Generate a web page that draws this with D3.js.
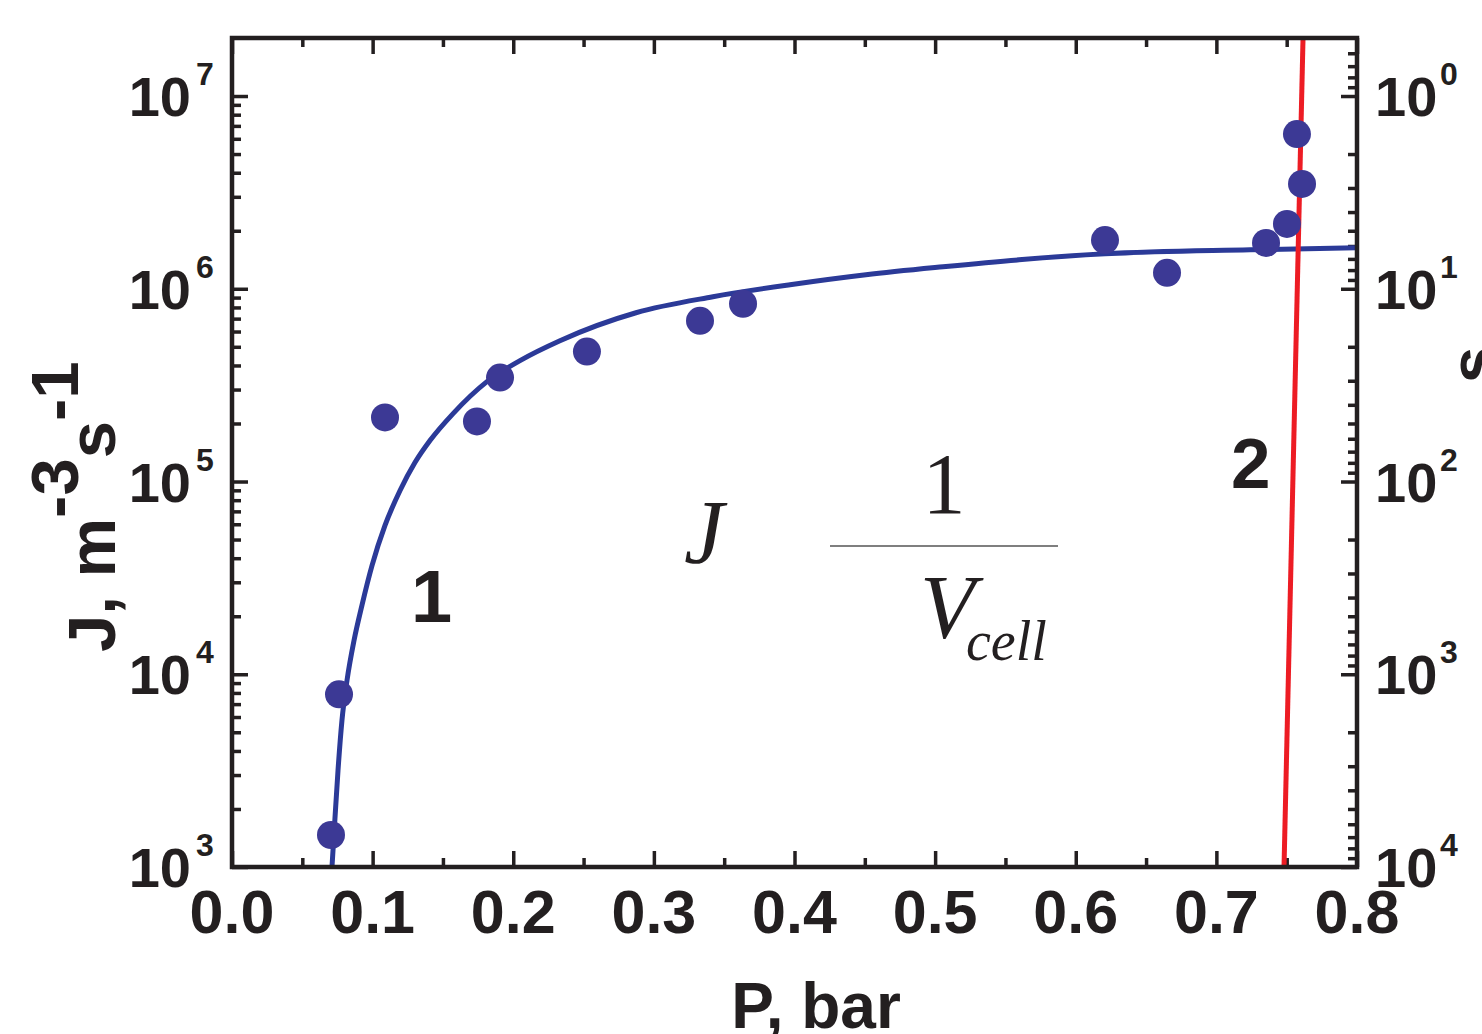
<!DOCTYPE html>
<html><head><meta charset="utf-8">
<script src="https://cdn.jsdelivr.net/npm/d3@7"></script>
<style>body{margin:0;background:#fff}</style>
</head><body><svg id="c" width="1482" height="1034"></svg>
<script>
// ---- data ----
const xTickValues = [0, 0.1, 0.2, 0.3, 0.4, 0.5, 0.6, 0.7, 0.8];
const xTickLabels = ["0.0", "0.1", "0.2", "0.3", "0.4", "0.5", "0.6", "0.7", "0.8"];
const jDecades = [1e3, 1e4, 1e5, 1e6, 1e7];
const jExponents = ["3", "4", "5", "6", "7"];
const tauDecades = [1, 10, 100, 1000, 10000];
const tauExponents = ["0", "1", "2", "3", "4"];

// measured points (P, bar ; J, m^-3 s^-1)
const dotP = [0.0704, 0.0761, 0.1088, 0.1742, 0.1906, 0.2524, 0.3328, 0.3634, 0.6208, 0.6649, 0.7353, 0.7502, 0.7573, 0.7609];
const dotJ = [1466, 7870, 2.15e5, 2.05e5, 3.46e5, 4.72e5, 6.82e5, 8.36e5, 1.79e6, 1.21e6, 1.73e6, 2.17e6, 6.35e6, 3.50e6];

// curve 1 (fit of J)
const curveP = [0.0711, 0.0732, 0.0754, 0.0782, 0.0818, 0.0868, 0.0924, 0.0996, 0.1088, 0.1195, 0.1301, 0.1408, 0.1572, 0.1813, 0.2048, 0.2332, 0.2873, 0.3420, 0.3968, 0.4508, 0.5056, 0.5596, 0.6208, 0.7239, 0.8000];
const curveJ = [1000, 1780, 3182, 5777, 9310, 15010, 22780, 36710, 59160, 89830, 1.254e5, 1.631e5, 2.251e5, 3.297e5, 4.24e5, 5.377e5, 7.51e5, 9.09e5, 1.049e6, 1.182e6, 1.300e6, 1.413e6, 1.518e6, 1.592e6, 1.631e6];

// curve 2 (right axis, s)
const redP = [0.7481, 0.7616];
const redTau = [1e4, 0.507];

// ---- layout ----
const L = 232, R = 1357, T = 38, B = 867;
const ink = "#231f20";
const sans = "'Liberation Sans', Arial, Helvetica, sans-serif";
const serif = "'Liberation Serif', 'Times New Roman', serif";

const svg = d3.select("#c");
const x = d3.scaleLinear().domain([0, 0.8]).range([L, R]);
const yJ = d3.scaleLog().domain([1e3, 2e7]).range([B, T]);
const yT = d3.scaleLog().domain([1e4, 0.5]).range([B, T]);

svg.append("defs").append("clipPath").attr("id", "clip")
  .append("rect").attr("x", L).attr("y", T).attr("width", R - L).attr("height", B - T);

// minor ticks
const xMinor = d3.range(0.05, 0.8, 0.1);
const jMinor = [];
[1e3, 1e4, 1e5, 1e6].forEach(d => { for (let k = 2; k <= 9; k++) jMinor.push(d * k); });
const tMinor = [0.6, 0.7, 0.8, 0.9];
[1, 10, 100, 1000].forEach(d => { for (let k = 2; k <= 9; k++) tMinor.push(d * k); });

function styleAxis(sel) {
  sel.select(".domain").remove();
  sel.selectAll(".tick line").attr("stroke", ink).attr("stroke-width", 3.5);
  sel.selectAll(".tick text").remove();
}
const ax = svg.append("g");
ax.append("g").attr("transform", `translate(0,${B})`).call(d3.axisBottom(x).tickValues(xTickValues).tickSize(-16)).call(styleAxis);
ax.append("g").attr("transform", `translate(0,${B})`).call(d3.axisBottom(x).tickValues(xMinor).tickSize(-9)).call(styleAxis);
ax.append("g").attr("transform", `translate(0,${T})`).call(d3.axisTop(x).tickValues(xTickValues).tickSize(-16)).call(styleAxis);
ax.append("g").attr("transform", `translate(0,${T})`).call(d3.axisTop(x).tickValues(xMinor).tickSize(-9)).call(styleAxis);
ax.append("g").attr("transform", `translate(${L},0)`).call(d3.axisLeft(yJ).tickValues(jDecades).tickSize(-16)).call(styleAxis);
ax.append("g").attr("transform", `translate(${L},0)`).call(d3.axisLeft(yJ).tickValues(jMinor).tickSize(-9)).call(styleAxis);
ax.append("g").attr("transform", `translate(${R},0)`).call(d3.axisRight(yT).tickValues(tauDecades).tickSize(-16)).call(styleAxis);
ax.append("g").attr("transform", `translate(${R},0)`).call(d3.axisRight(yT).tickValues(tMinor).tickSize(-9)).call(styleAxis);

// curves
const plot = svg.append("g").attr("clip-path", "url(#clip)");
const line1 = d3.line().x(d => x(d[0])).y(d => yJ(d[1])).curve(d3.curveMonotoneX);
plot.append("path").datum(curveP.map((p, i) => [p, curveJ[i]]))
  .attr("d", line1).attr("fill", "none").attr("stroke", "#2b3a98").attr("stroke-width", 5);
const line2 = d3.line().x(d => x(d[0])).y(d => yT(d[1]));
plot.append("path").datum(redP.map((p, i) => [p, redTau[i]]))
  .attr("d", line2).attr("fill", "none").attr("stroke", "#ed1c24").attr("stroke-width", 5);

// dots
svg.append("g").selectAll("circle").data(dotP.map((p, i) => [p, dotJ[i]])).join("circle")
  .attr("cx", d => x(d[0])).attr("cy", d => yJ(d[1])).attr("r", 14).attr("fill", "#3c3995");

// frame
svg.append("rect").attr("x", L).attr("y", T).attr("width", R - L).attr("height", B - T)
  .attr("fill", "none").attr("stroke", ink).attr("stroke-width", 4.5);

// tick labels
const lab = svg.append("g").attr("fill", ink).attr("font-family", sans).attr("font-weight", "bold");
xTickValues.forEach((v, i) => {
  lab.append("text").attr("x", x(v)).attr("y", 933).attr("text-anchor", "middle")
    .attr("font-size", 61).text(xTickLabels[i]);
});
jDecades.forEach((v, i) => {
  const yy = yJ(v);
  lab.append("text").attr("x", 191).attr("y", yy + 20).attr("text-anchor", "end").attr("font-size", 56).text("10");
  lab.append("text").attr("x", 196).attr("y", yy - 11).attr("font-size", 32).text(jExponents[i]);
});
tauDecades.forEach((v, i) => {
  const yy = yT(v);
  lab.append("text").attr("x", 1375).attr("y", yy + 20).attr("font-size", 56).text("10");
  lab.append("text").attr("x", 1440).attr("y", yy - 11).attr("font-size", 32).text(tauExponents[i]);
});

// axis titles
lab.append("text").attr("x", 816).attr("y", 1028).attr("text-anchor", "middle").attr("font-size", 64).text("P, bar");
const yt = lab.append("text").attr("transform", "translate(115,652) rotate(-90)").attr("font-size", 67);
yt.append("tspan").text("J, m");
yt.append("tspan").attr("dy", -37).text("-3");
yt.append("tspan").attr("dy", 37).text("s");
yt.append("tspan").attr("dy", -37).text("-1");
lab.append("text").attr("transform", "translate(1496,365) rotate(-90)").attr("text-anchor", "middle").attr("font-size", 66).text("s");

// curve numbers
lab.append("text").attr("x", 411).attr("y", 622).attr("font-size", 74).text("1");
lab.append("text").attr("x", 1231).attr("y", 488).attr("font-size", 71).text("2");

// formula
const f = svg.append("g").attr("fill", ink).attr("font-family", serif);
f.append("text").attr("x", 684).attr("y", 563).attr("font-style", "italic").attr("font-size", 90).text("J");
f.append("text").attr("x", 944).attr("y", 513).attr("text-anchor", "middle").attr("font-size", 86).text("1");
f.append("line").attr("x1", 830).attr("x2", 1058).attr("y1", 546).attr("y2", 546).attr("stroke", "#555").attr("stroke-width", 1.5);
f.append("text").attr("x", 920).attr("y", 638).attr("font-style", "italic").attr("font-size", 90).text("V");
f.append("text").attr("x", 966).attr("y", 660).attr("font-style", "italic").attr("font-size", 56).text("cell");
</script></body></html>
